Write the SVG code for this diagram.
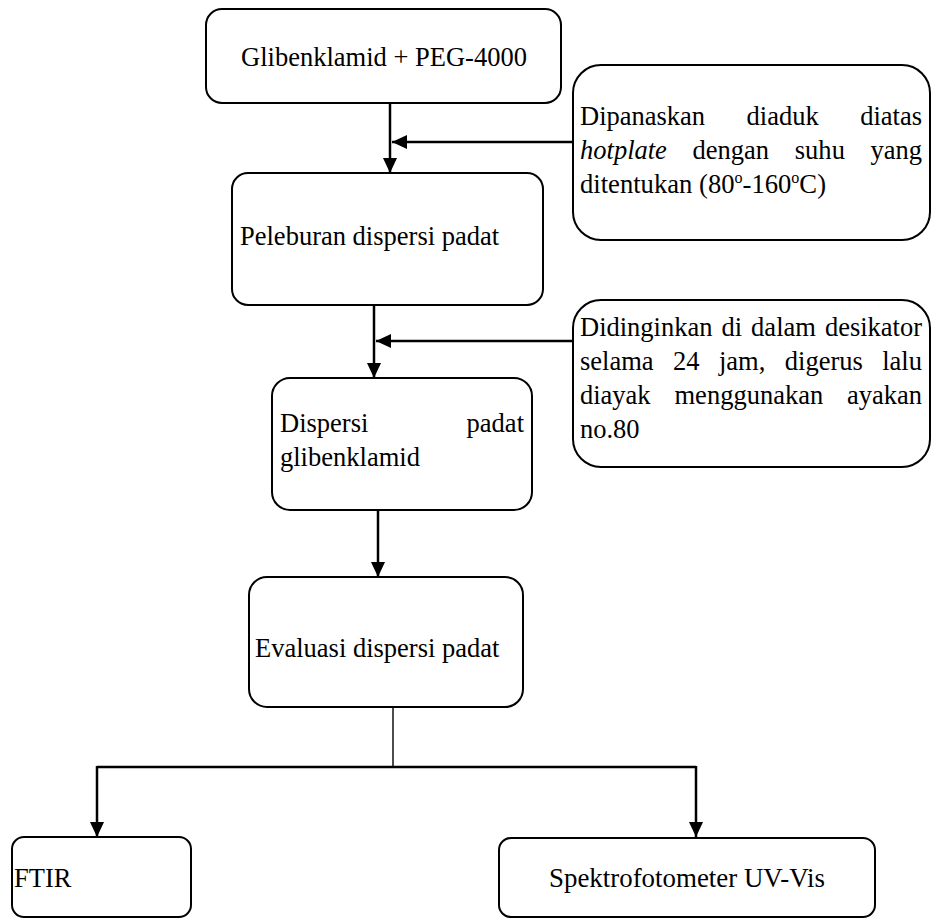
<svg xmlns="http://www.w3.org/2000/svg" width="939" height="921" viewBox="0 0 939 921">
<style>
.box{fill:#fff;stroke:#000;stroke-width:2}
.t{font-family:"Liberation Serif",Tinos,"Times New Roman",Times,"Noto Serif","DejaVu Serif",serif;font-size:26.5px;fill:#000}
.e{text-anchor:end}
.m{text-anchor:middle}
.c{stroke:#000;stroke-width:2.5;fill:none}
.thin{stroke:#000;stroke-width:1.4;fill:none}
</style>
<defs>
<marker id="ah" markerUnits="userSpaceOnUse" markerWidth="16" markerHeight="16" viewBox="0 0 16 16" refX="15" refY="8" orient="auto">
<path d="M0,1 L15,8 L0,15 Z" fill="#000"/>
</marker>
</defs>
<rect width="939" height="921" fill="#fff"/>
<g id="connectors">
<line class="c" x1="390" y1="103" x2="390" y2="173" marker-end="url(#ah)"/>
<line class="c" x1="573" y1="142" x2="392" y2="142" marker-end="url(#ah)"/>
<line class="c" x1="374" y1="305" x2="374" y2="378" marker-end="url(#ah)"/>
<line class="c" x1="573" y1="341" x2="376" y2="341" marker-end="url(#ah)"/>
<line class="c" x1="378" y1="510" x2="378" y2="577" marker-end="url(#ah)"/>
<line class="thin" x1="393" y1="707" x2="393" y2="767"/>
<line class="c" x1="97" y1="767" x2="696" y2="767"/>
<line class="c" x1="97" y1="766" x2="97" y2="837" marker-end="url(#ah)"/>
<line class="c" x1="696" y1="766" x2="696" y2="837" marker-end="url(#ah)"/>
</g>
<g id="n1">
<rect class="box" x="206" y="9" width="355" height="94" rx="16"/>
<text class="t m" x="384" y="66" textLength="285.8" lengthAdjust="spacingAndGlyphs">Glibenklamid + PEG-4000</text>
</g>
<g id="n2">
<rect class="box" x="573" y="65" width="357" height="175" rx="28"/>
<text class="t" x="580" y="125" textLength="125.1" lengthAdjust="spacingAndGlyphs">Dipanaskan</text>
<text class="t" x="746.6" y="125" textLength="72.1" lengthAdjust="spacingAndGlyphs">diaduk</text>
<text class="t" x="860.2" y="125" textLength="61.8" lengthAdjust="spacingAndGlyphs">diatas</text>
<text class="t" x="580" y="159" font-style="italic" textLength="86.9" lengthAdjust="spacingAndGlyphs">hotplate</text>
<text class="t" x="692.6" y="159" textLength="76.5" lengthAdjust="spacingAndGlyphs">dengan</text>
<text class="t" x="794.8" y="159" textLength="50.1" lengthAdjust="spacingAndGlyphs">suhu</text>
<text class="t" x="870.5" y="159" textLength="51.5" lengthAdjust="spacingAndGlyphs">yang</text>
<text class="t" x="580" y="193" textLength="246" lengthAdjust="spacingAndGlyphs">ditentukan (80<tspan font-size="16" dy="-10">o</tspan><tspan dy="10">-160</tspan><tspan font-size="16" dy="-10">o</tspan><tspan dy="10">C)</tspan></text>
</g>
<g id="n3">
<rect class="box" x="232" y="173" width="311" height="132" rx="16"/>
<text class="t" x="240" y="245" textLength="259.1" lengthAdjust="spacingAndGlyphs">Peleburan dispersi padat</text>
</g>
<g id="n4">
<rect class="box" x="573" y="300" width="357" height="167" rx="28"/>
<text class="t" x="580" y="336" textLength="132.5" lengthAdjust="spacingAndGlyphs">Didinginkan</text>
<text class="t" x="721.5" y="336" textLength="20.6" lengthAdjust="spacingAndGlyphs">di</text>
<text class="t" x="751.1" y="336" textLength="64.8" lengthAdjust="spacingAndGlyphs">dalam</text>
<text class="t" x="824.9" y="336" textLength="97.1" lengthAdjust="spacingAndGlyphs">desikator</text>
<text class="t" x="580" y="370" textLength="73.6" lengthAdjust="spacingAndGlyphs">selama</text>
<text class="t" x="673" y="370" textLength="26.5" lengthAdjust="spacingAndGlyphs">24</text>
<text class="t" x="718.9" y="370" textLength="46.4" lengthAdjust="spacingAndGlyphs">jam,</text>
<text class="t" x="784.8" y="370" textLength="78" lengthAdjust="spacingAndGlyphs">digerus</text>
<text class="t" x="882.2" y="370" textLength="39.8" lengthAdjust="spacingAndGlyphs">lalu</text>
<text class="t" x="580" y="404" textLength="70.6" lengthAdjust="spacingAndGlyphs">diayak</text>
<text class="t" x="674.5" y="404" textLength="148.7" lengthAdjust="spacingAndGlyphs">menggunakan</text>
<text class="t" x="847" y="404" textLength="75" lengthAdjust="spacingAndGlyphs">ayakan</text>
<text class="t" x="580" y="438" textLength="59.6" lengthAdjust="spacingAndGlyphs">no.80</text>
</g>
<g id="n5">
<rect class="box" x="272" y="378" width="260" height="132" rx="18"/>
<text class="t" x="280" y="432" textLength="88.3" lengthAdjust="spacingAndGlyphs">Dispersi</text>
<text class="t" x="466.6" y="432" textLength="57.4" lengthAdjust="spacingAndGlyphs">padat</text>
<text class="t" x="280" y="466" textLength="139.9" lengthAdjust="spacingAndGlyphs">glibenklamid</text>
</g>
<g id="n6">
<rect class="box" x="249" y="577" width="274" height="130" rx="18"/>
<text class="t" x="255" y="657" textLength="244.4" lengthAdjust="spacingAndGlyphs">Evaluasi dispersi padat</text>
</g>
<g id="n7">
<rect class="box" x="12" y="837" width="179" height="80" rx="12"/>
<text class="t" x="14" y="887" textLength="57.4" lengthAdjust="spacingAndGlyphs">FTIR</text>
</g>
<g id="n8">
<rect class="box" x="499" y="838" width="376" height="79" rx="12"/>
<text class="t m" x="687" y="887" textLength="276" lengthAdjust="spacingAndGlyphs">Spektrofotometer UV-Vis</text>
</g>
</svg>
